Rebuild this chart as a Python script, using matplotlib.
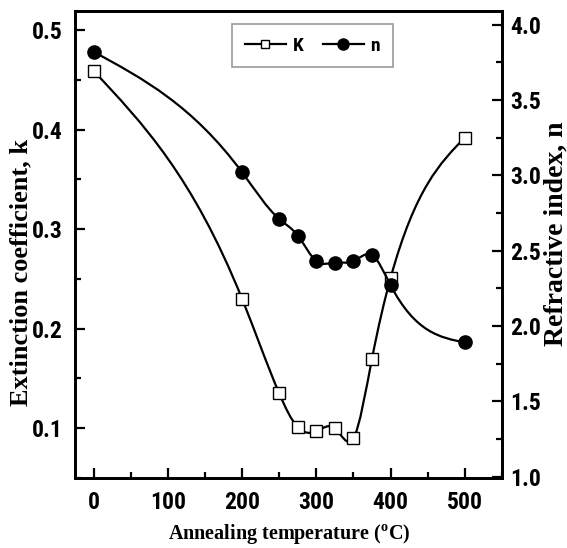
import numpy as np
import matplotlib
matplotlib.use("Agg")
import matplotlib.pyplot as plt
from matplotlib.path import Path
from matplotlib.patches import PathPatch
from matplotlib.lines import Line2D
from matplotlib.ticker import MultipleLocator

# annealing temperatures (C)
temp = [0, 200, 250, 275, 300, 325, 350, 375, 400, 500]
# extinction coefficient k
k_vals = [0.459, 0.230, 0.135, 0.101, 0.097, 0.100, 0.090, 0.170, 0.251, 0.392]
# refractive index n
n_vals = [3.82, 3.02, 2.71, 2.60, 2.43, 2.42, 2.43, 2.47, 2.27, 1.89]

x_ticks = [0, 100, 200, 300, 400, 500]

tick_font = ['Roboto Condensed', 'Barlow Semi Condensed', 'Liberation Sans', 'DejaVu Sans']
label_font = ['Liberation Serif', 'DejaVu Serif']

plt.rcParams['mathtext.fontset'] = 'custom'
plt.rcParams['mathtext.rm'] = 'Liberation Serif:bold'


def spline_path(x, y):
    # natural cubic spline through the points, drawn as bezier segments
    x = np.asarray(x, float)
    y = np.asarray(y, float)
    n = len(x)
    h = np.diff(x)
    A = np.zeros((n, n))
    b = np.zeros(n)
    A[0, 0] = 1
    A[-1, -1] = 1
    for i in range(1, n - 1):
        A[i, i - 1] = h[i - 1]
        A[i, i] = 2 * (h[i - 1] + h[i])
        A[i, i + 1] = h[i]
        b[i] = 6 * ((y[i + 1] - y[i]) / h[i] - (y[i] - y[i - 1]) / h[i - 1])
    M = np.linalg.solve(A, b)
    d = np.zeros(n)
    for i in range(n - 1):
        d[i] = (y[i + 1] - y[i]) / h[i] - h[i] * (2 * M[i] + M[i + 1]) / 6
    d[-1] = (y[-1] - y[-2]) / h[-1] + h[-1] * (M[-2] + 2 * M[-1]) / 6
    verts = [(x[0], y[0])]
    codes = [Path.MOVETO]
    for i in range(n - 1):
        verts += [(x[i] + h[i] / 3, y[i] + d[i] * h[i] / 3),
                  (x[i + 1] - h[i] / 3, y[i + 1] - d[i + 1] * h[i] / 3),
                  (x[i + 1], y[i + 1])]
        codes += [Path.CURVE4] * 3
    return Path(verts, codes)


fig = plt.figure(figsize=(5.67, 5.48), dpi=100)
ax = fig.add_axes([0.1323, 0.1277, 0.753, 0.852])
ax2 = ax.twinx()

ax.add_patch(PathPatch(spline_path(temp, k_vals), fill=False, lw=1.6, color='black', zorder=2))
ax.plot(temp, k_vals, ls='none', marker='s', ms=8, mfc='white', mec='black', mew=1.0, zorder=3)

ax2.add_patch(PathPatch(spline_path(temp, n_vals), fill=False, lw=1.6, color='black', zorder=2))
ax2.plot(temp, n_vals, ls='none', marker='o', ms=9.5, mfc='black', mec='black', zorder=3)

ax.set_xlim(-25, 550)
ax.set_ylim(0.05, 0.519)
ax2.set_ylim(0.99, 4.09)

ax.set_xticks(x_ticks)
ax.xaxis.set_minor_locator(MultipleLocator(50))
ax.yaxis.set_major_locator(MultipleLocator(0.1))
ax.yaxis.set_minor_locator(MultipleLocator(0.05))
ax2.yaxis.set_major_locator(MultipleLocator(0.5))
ax2.yaxis.set_minor_locator(MultipleLocator(0.25))
ax2.yaxis.set_major_formatter(plt.FormatStrFormatter('%.1f'))

ax.tick_params(axis='x', which='both', direction='in', top=False, width=1.6, pad=9)
ax.tick_params(axis='y', which='both', direction='in', right=False, width=1.6, pad=9)
ax2.tick_params(axis='y', which='both', direction='in', width=1.6, pad=6)
for a in (ax, ax2):
    a.tick_params(which='major', length=7)
    a.tick_params(which='minor', length=4)
    for s in a.spines.values():
        s.set_linewidth(2)
    for lab in a.get_xticklabels() + a.get_yticklabels():
        lab.set_family(tick_font)
        lab.set_fontweight('bold')
        lab.set_fontsize(17)

fig.text(289 / 567, 1 - 534 / 548, r'Annealing temperature ($^{\mathrm{o}}$C)', family=label_font,
         fontweight='bold', fontsize=14.5, ha='center', va='center')
fig.text(21 / 567, 1 - 272 / 548, 'Extinction coefficient, k', family=label_font,
         fontweight='bold', fontsize=19, rotation=90, ha='center', va='center')
fig.text(556 / 567, 1 - 234 / 548, 'Refractive index, n', family=label_font,
         fontweight='bold', fontsize=20, rotation=90, ha='center', va='center')

handles = [Line2D([], [], color='black', lw=1.6, marker='s', ms=6, mfc='white', mec='black'),
           Line2D([], [], color='black', lw=1.6, marker='o', ms=8, mfc='black')]
leg = ax.legend(handles, ['K', 'n'], loc='upper left', bbox_to_anchor=(0.3685, 0.972),
                borderaxespad=0, ncol=2, frameon=True, fancybox=False, edgecolor='gray',
                prop={'family': tick_font, 'weight': 'bold', 'size': 14},
                handlelength=2.1, handletextpad=0.35, columnspacing=1.0, borderpad=0.65)
leg.get_frame().set_linewidth(1.2)

fig.savefig('out.png', dpi=100)
